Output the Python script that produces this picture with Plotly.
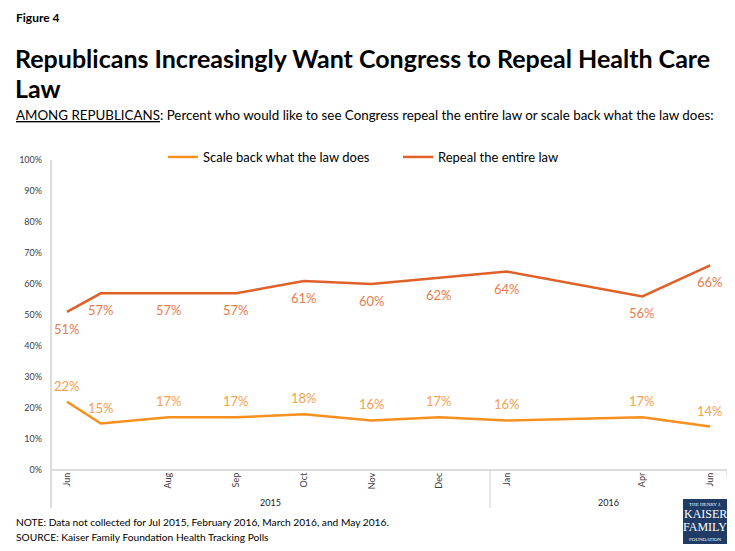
import plotly.graph_objects as go

# ---- data ----
months = ["Jun", "", "Aug", "Sep", "Oct", "Nov", "Dec", "Jan", "Apr", "Jun"]
x_pos = [0, 0.5, 1.5, 2.5, 3.5, 4.5, 5.5, 6.5, 8.5, 9.5]
years = ["2015", "2016"]
year_centers = [3.0, 8.0]
repeal = [51, 57, 57, 57, 61, 60, 62, 64, 56, 66]
scale_back = [22, 15, 17, 17, 18, 16, 17, 16, 17, 14]
y_ticks = [0, 10, 20, 30, 40, 50, 60, 70, 80, 90, 100]

OFF = 8  # page body margin
W, H = 735 - OFF, 551 - OFF
L, R, T, B = 51 - OFF, 8, 160 - OFF, 81
PW, PH = W - L - R, H - T - B
FONT = "Lato"

def px(x):
    return (x - OFF - L) / PW

def py(y):
    return (H - B - (y - OFF)) / PH

C_SCALE = "#f7901e"
C_REPEAL = "#e0602a"
C_SCALE_T = "#f9a04e"
C_REPEAL_T = "#ec7b4c"

fig = go.Figure()
fig.add_trace(go.Scatter(x=x_pos, y=scale_back, mode="lines", name="Scale back what the law does",
                         line=dict(color=C_SCALE, width=2.5)))
fig.add_trace(go.Scatter(x=x_pos, y=repeal, mode="lines", name="Repeal the entire law",
                         line=dict(color=C_REPEAL, width=2.5)))

ann = []
for xv, v in zip(x_pos, scale_back):
    ann.append(dict(x=xv, y=v, xref="x", yref="y", text=f"{v}%", showarrow=False, yanchor="middle",
                    yshift=16, font=dict(family=FONT, size=13, color=C_SCALE_T)))
for xv, v in zip(x_pos, repeal):
    ann.append(dict(x=xv, y=v, xref="x", yref="y", text=f"{v}%", showarrow=False, yanchor="middle",
                    yshift=-17, font=dict(family=FONT, size=13, color=C_REPEAL_T)))
for yc, yl in zip(year_centers, years):
    ann.append(dict(x=yc, y=py(502), xref="x", yref="paper", text=yl, showarrow=False,
                    yanchor="middle", font=dict(family=FONT, size=9, color="#202020")))

def txt(x, y, text, size, color="#000", family=FONT, xanchor="left"):
    ann.append(dict(x=px(x), y=py(y), xref="paper", yref="paper", xanchor=xanchor, yanchor="middle",
                    text=text, showarrow=False, font=dict(family=family, size=size, color=color)))

txt(14, 17, "<b>Figure 4</b>", 12)
txt(13, 58, "<b>Republicans Increasingly Want Congress to Repeal Health Care</b>", 25)
txt(13, 88, "<b>Law</b>", 25)
txt(14, 115, "<u>AMONG REPUBLICANS</u>: Percent who would like to see Congress repeal the entire law or scale back what the law does:", 13.35)
txt(14, 522, "NOTE: Data not collected for Jul 2015, February 2016, March 2016, and May 2016.", 10.2)
txt(14, 537, "SOURCE: Kaiser Family Foundation Health Tracking Polls", 10.2)

# logo
for t, s, yy in [("THE HENRY J.", 5, 504), ("KAISER", 12, 514), ("FAMILY", 12, 527), ("FOUNDATION", 5, 539)]:
    txt(705, yy, t, s, color="white", family="Liberation Serif", xanchor="center")

shapes = [
    dict(type="rect", xref="paper", yref="paper", x0=px(683), x1=px(727), y0=py(544), y1=py(499),
         fillcolor="#1f3b66", line=dict(width=0), layer="below"),
    dict(type="line", xref="paper", yref="paper", x0=px(51), x1=px(51), y0=py(160), y1=py(508),
         line=dict(color="#d0d0d0", width=1.5)),
    dict(type="line", xref="paper", yref="paper", x0=px(490), x1=px(490), y0=py(470), y1=py(508),
         line=dict(color="#d0d0d0", width=1)),
    dict(type="line", xref="paper", yref="paper", x0=px(727), x1=px(727), y0=py(470), y1=py(477),
         line=dict(color="#d0d0d0", width=1)),
    dict(type="line", xref="paper", yref="paper", x0=px(51), x1=px(727), y0=py(470), y1=py(470),
         line=dict(color="#d0d0d0", width=1.5)),
]

fig.update_layout(
    width=W, height=H, margin=dict(l=L, r=R, t=T, b=B),
    paper_bgcolor="white", plot_bgcolor="white",
    showlegend=True,
    legend=dict(orientation="h", x=px(163), y=py(157), xanchor="left", yanchor="middle",
                font=dict(family=FONT, size=13, color="#000"), entrywidth=190, entrywidthmode="pixels",
                bgcolor="rgba(0,0,0,0)"),
    xaxis=dict(range=[-0.236, 9.75], tickvals=[p for p, m in zip(x_pos, months) if m],
               ticktext=[m for m in months if m], tickangle=-90, showgrid=False, zeroline=False,
               showline=False, ticks="", tickfont=dict(family=FONT, size=9, color="#404040")),
    yaxis=dict(range=[0, 100], tickvals=y_ticks, ticktext=[f"{v}%" for v in y_ticks],
               showgrid=False, zeroline=False, showline=False, ticks="", ticklabelstandoff=8,
               tickfont=dict(family=FONT, size=9, color="#404040")),
    annotations=ann, shapes=shapes,
)
fig.write_html("out.html")
